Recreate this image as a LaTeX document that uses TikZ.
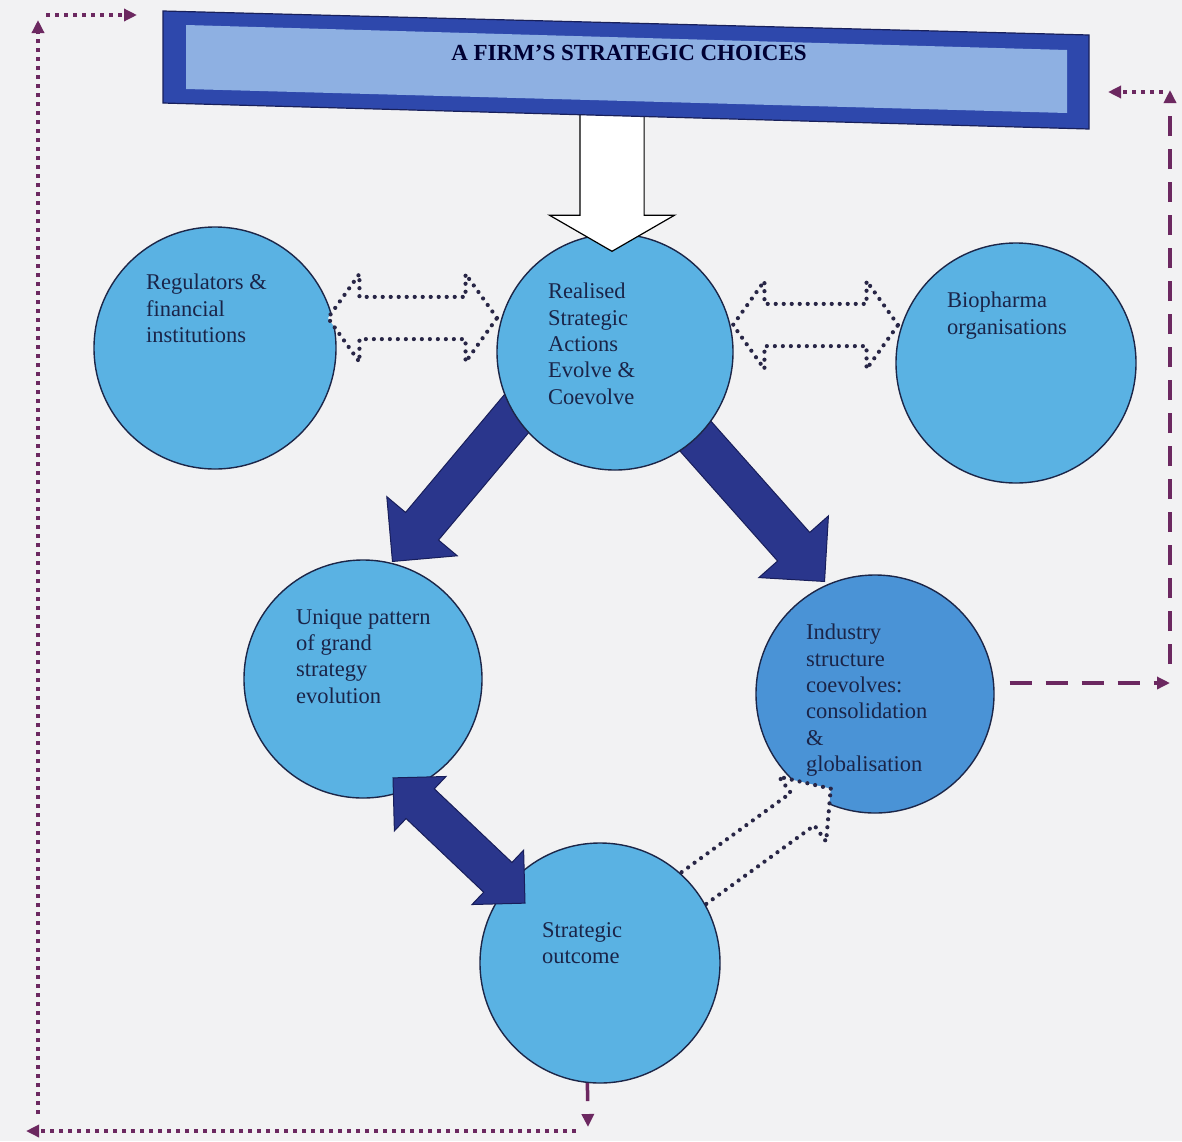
\documentclass[tikz,border=0pt]{standalone}
\usepackage{fontspec}
\setmainfont{Liberation Serif}
\usetikzlibrary{shapes.arrows,arrows.meta,calc}

\definecolor{pagebg}{RGB}{242,242,243}
\definecolor{discfill}{RGB}{90,178,227}
\definecolor{discdark}{RGB}{74,147,214}
\definecolor{discline}{RGB}{28,38,72}
\definecolor{navyarrow}{RGB}{42,54,140}
\definecolor{navyline}{RGB}{24,30,90}
\definecolor{bannerblue}{RGB}{46,72,172}
\definecolor{bannerlight}{RGB}{142,176,226}
\definecolor{bannerline}{RGB}{24,32,90}
\definecolor{inktext}{RGB}{26,36,72}
\definecolor{plum}{RGB}{108,40,96}
\definecolor{dotink}{RGB}{40,38,70}

\begin{document}
\begin{tikzpicture}[x=1pt,y=-1pt,
  disc/.style={circle,draw=discline,line width=1.4pt,fill=discfill,minimum size=#1,inner sep=0pt},
  labeltext/.style={anchor=north west,align=left,inner sep=0pt,text=inktext,
    font=\fontsize{22.5}{26.3}\selectfont},
  solidarrow/.style={single arrow,draw=navyline,fill=navyarrow,line width=1pt,
    inner xsep=0pt,single arrow tip angle=90,anchor=tip},
  soliddouble/.style={double arrow,draw=navyline,fill=navyarrow,line width=1pt,
    inner xsep=0pt,double arrow tip angle=90},
  hollowdots/.style={draw=dotink,fill=pagebg,line width=4.2pt,
    dash pattern=on 0pt off 8pt,line cap=round,inner xsep=0pt},
  plumtip/.style={-{Triangle[length=13pt,width=12pt]}},
  plumdot/.style={draw=plum,line width=4pt,dash pattern=on 4pt off 5pt,plumtip},
  plumdash/.style={draw=plum,line width=3.5pt,dash pattern=on 22pt off 14pt,plumtip},
]
\useasboundingbox (0,0) rectangle (1182,1141);
\fill[pagebg] (0,0) rectangle (1182,1141);

% outer circles
\node[disc=242pt] (reg) at (215,348) {};
\node[disc=240pt] (bio) at (1016,363) {};
\node[disc=238pt] (uniq) at (363,679) {};
\node[disc=238pt,fill=discdark] (ind) at (875,694) {};

% dotted hollow arrow from the outcome towards industry structure
\node[hollowdots,single arrow,anchor=tip,minimum height=185pt,inner ysep=18pt,
  single arrow head extend=20pt,single arrow tip angle=98,rotate=36] (outind) at (833,787) {};

\node[disc=240pt] (out) at (600,963) {};

% solid arrows leaving the central circle
\node[solidarrow,minimum height=200pt,inner ysep=21pt,
  single arrow head extend=24.5pt,rotate=-130] (realuniq) at (392,562) {};
\node[solidarrow,minimum height=200pt,inner ysep=21pt,
  single arrow head extend=25pt,rotate=-48.4] (realind) at (825,582) {};
\node[soliddouble,minimum height=182pt,inner ysep=20pt,
  double arrow head extend=17pt,rotate=-43.5] (uniqout) at (459,840.5) {};

\node[disc=236pt] (real) at (615,352) {};

% white arrow from the banner
\node[single arrow,draw=black,fill=white,line width=1.2pt,inner xsep=0pt,inner ysep=31.5pt,
  minimum height=150pt,single arrow head extend=30.5pt,anchor=tip,
  single arrow tip angle=120,rotate=-90] (down) at (612,252) {};

% banner
\filldraw[fill=bannerblue,draw=bannerline,line width=1.2pt]
  (163,11) -- (1089,35) -- (1089,129) -- (163,103) -- cycle;
\fill[bannerlight] (186,25) -- (1067,50) -- (1067,113) -- (186,89) -- cycle;
\node[font=\bfseries\fontsize{23}{27}\selectfont,text=black!80!blue] (title) at (629,53)
  {A FIRM’S STRATEGIC CHOICES};

% dotted two-way links to the side circles
\node[hollowdots,double arrow,minimum height=169pt,inner ysep=19pt,
  double arrow head extend=23pt,double arrow tip angle=109] (regreal) at (412.5,318) {};
\node[hollowdots,double arrow,minimum height=165pt,inner ysep=19pt,
  double arrow head extend=23pt,double arrow tip angle=109] (realbio) at (815.5,325) {};

% circle texts
\node[labeltext] (regT) at (146,274) {Regulators \&\\financial\\institutions};
\node[labeltext] (realT) at (548,283) {Realised\\Strategic\\Actions\\Evolve \&\\Coevolve};
\node[labeltext] (bioT) at (947,292) {Biopharma\\organisations};
\node[labeltext] (uniqT) at (296,609) {Unique pattern\\of grand\\strategy\\evolution};
\node[labeltext] (indT) at (806,624) {Industry\\structure\\coevolves:\\consolidation\\\&\\globalisation};
\node[labeltext] (outT) at (542,922) {Strategic\\outcome};

% feedback loops
\coordinate (d1) at (588,1127);
\coordinate (b1) at (576,1131);
\coordinate (b2) at (26,1131);
\coordinate (l1) at (38,1114);
\coordinate (l2) at (38,20);
\coordinate (t1) at (46,15);
\coordinate (t2) at (137,15);
\coordinate (r1) at (1170,683);
\coordinate (r2) at (1170,664);
\coordinate (r3) at (1170,90);
\coordinate (r4) at (1163,92);
\coordinate (r5) at (1108,92);

\draw[draw=plum,line width=3.5pt,dash pattern=on 18pt off 14pt,plumtip] (out.-96) -- (d1);
\draw[plumdot] (b1) -- (b2);
\draw[plumdot] (l1) -- (l2);
\draw[plumdot] (t1) -- (t2);
\draw[plumdash] ($(ind.east |- r1)+(15,0)$) -- (r1);
\draw[plumdash,dash pattern=on 20pt off 13pt] (r2) -- (r3);
\draw[plumdot] (r4) -- (r5);
\end{tikzpicture}
\end{document}
